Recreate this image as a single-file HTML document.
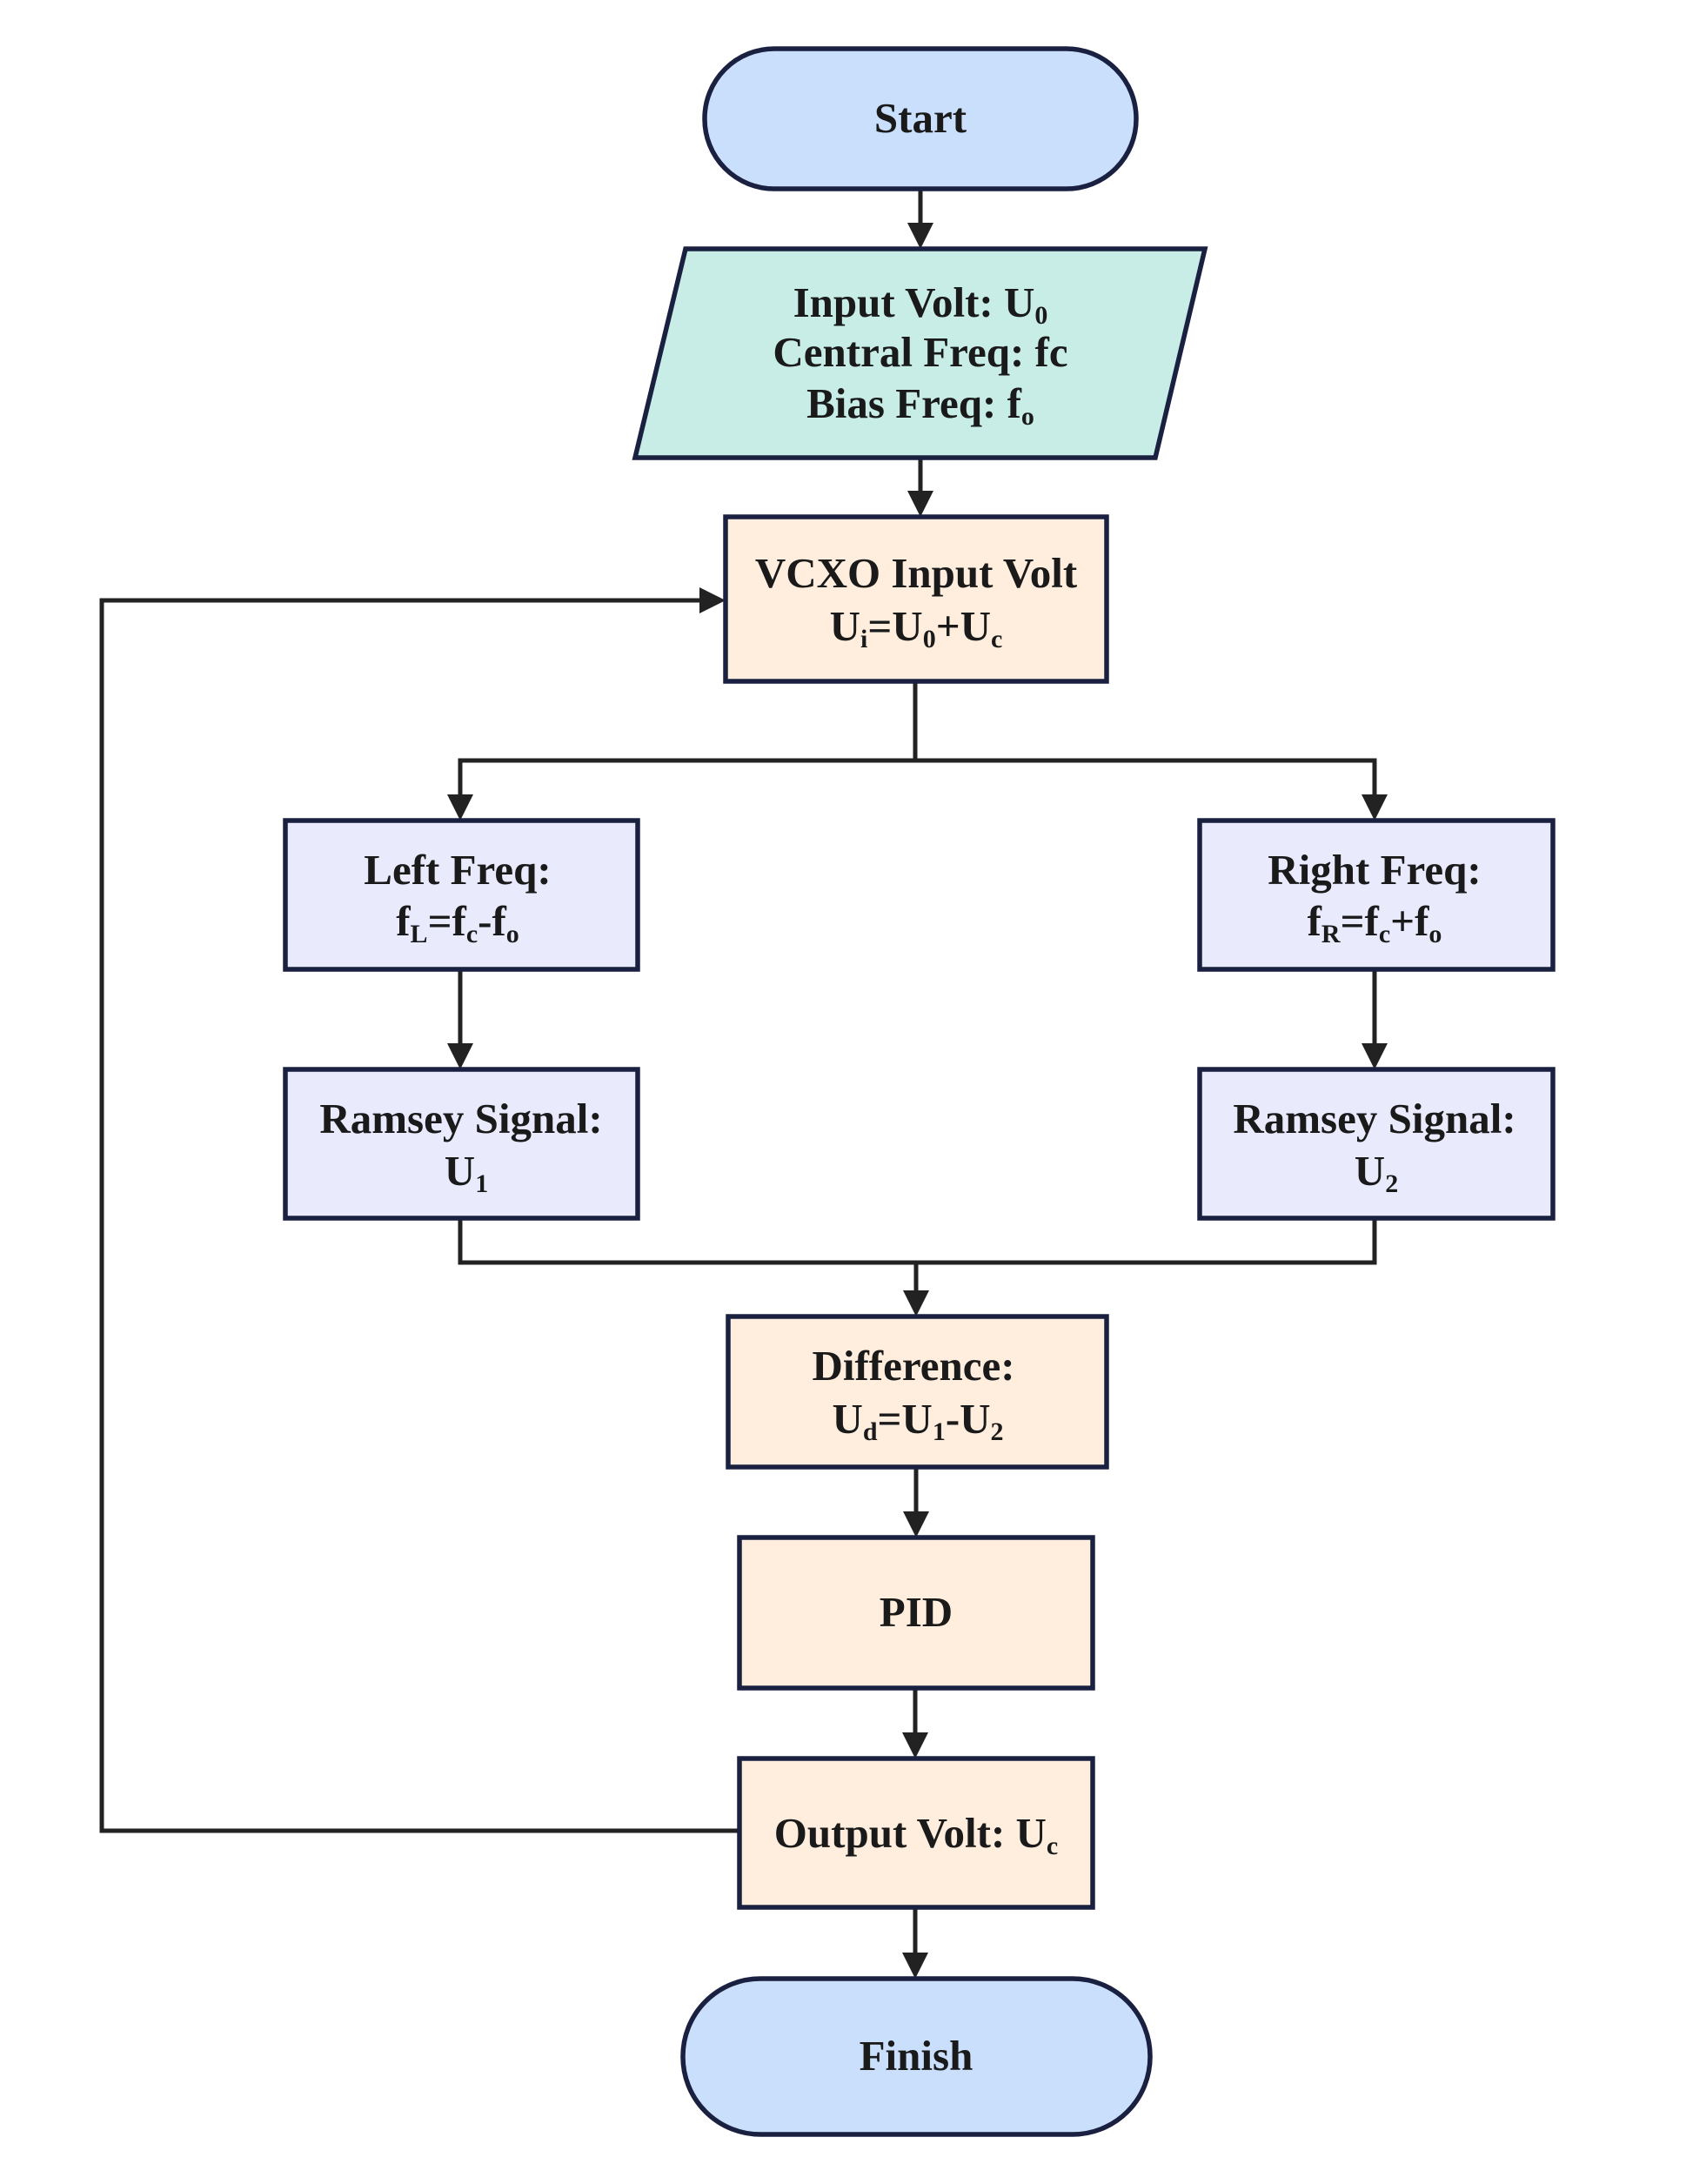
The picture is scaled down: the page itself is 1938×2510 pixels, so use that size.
<!DOCTYPE html>
<html><head><meta charset="utf-8"><style>
html,body{margin:0;padding:0;background:#fff;}
svg{display:block;}
text{font-family:"Liberation Serif",serif;font-weight:bold;font-size:49px;fill:#1a1a1a;}
.s{font-size:30px;}
</style></head><body>
<svg width="1938" height="2510" viewBox="0 0 1938 2510" xmlns="http://www.w3.org/2000/svg">
<g stroke="#222" stroke-width="5" fill="none">
<line x1="1058" y1="217" x2="1058" y2="258"/>
<line x1="1058" y1="526" x2="1058" y2="566"/>
<polyline points="1052,783 1052,874 529,874 529,915"/>
<polyline points="1052,874 1580,874 1580,915"/>
<line x1="529" y1="1114" x2="529" y2="1201"/>
<line x1="1580" y1="1114" x2="1580" y2="1201"/>
<polyline points="529,1400 529,1451 1580,1451 1580,1400"/>
<line x1="1053" y1="1451" x2="1053" y2="1485"/>
<line x1="1053" y1="1686" x2="1053" y2="1739"/>
<line x1="1052" y1="1940" x2="1052" y2="1993"/>
<line x1="1052" y1="2192" x2="1052" y2="2246"/>
<polyline points="850,2104 117,2104 117,690 806,690"/>
</g>
<g fill="#222">
<polygon points="1043,256 1073,256 1058,286"/>
<polygon points="1043,564 1073,564 1058,594"/>
<polygon points="514,913 544,913 529,943"/>
<polygon points="1565,913 1595,913 1580,943"/>
<polygon points="514,1199 544,1199 529,1229"/>
<polygon points="1565,1199 1595,1199 1580,1229"/>
<polygon points="1038,1483 1068,1483 1053,1513"/>
<polygon points="1038,1737 1068,1737 1053,1767"/>
<polygon points="1037,1991 1067,1991 1052,2021"/>
<polygon points="1037,2244 1067,2244 1052,2274"/>
<polygon points="804,675 804,705 834,690"/>
</g>
<g stroke="#1a2040" stroke-width="5.5">
<rect x="810" y="56" width="496" height="161" rx="80" fill="#c9dffb"/>
<polygon points="788,286 1385,286 1328,526 730,526" fill="#c7ede6"/>
<rect x="834" y="594" width="438" height="189" fill="#ffeedd"/>
<rect x="328" y="943" width="405" height="171" fill="#e9ebfd"/>
<rect x="1379" y="943" width="406" height="171" fill="#e9ebfd"/>
<rect x="328" y="1229" width="405" height="171" fill="#e9ebfd"/>
<rect x="1379" y="1229" width="406" height="171" fill="#e9ebfd"/>
<rect x="837" y="1513" width="435" height="173" fill="#ffeedd"/>
<rect x="850" y="1767" width="406" height="173" fill="#ffeedd"/>
<rect x="850" y="2021" width="406" height="171" fill="#ffeedd"/>
<rect x="785" y="2274" width="537" height="179" rx="89" fill="#c9dffb"/>
</g>
<g text-anchor="middle">
<text x="1058" y="152">Start</text>
<text x="1058" y="364">Input Volt: U<tspan class="s" dy="8">0</tspan></text>
<text x="1058" y="421">Central Freq: fc</text>
<text x="1058" y="480">Bias Freq: f<tspan class="s" dy="8">o</tspan></text>
<text x="1053" y="675">VCXO Input Volt</text>
<text x="1053" y="736">U<tspan class="s" dy="8">i</tspan><tspan dy="-8">=U</tspan><tspan class="s" dy="8">0</tspan><tspan dy="-8">+U</tspan><tspan class="s" dy="8">c</tspan></text>
<text x="526" y="1016">Left Freq:</text>
<text x="526" y="1075">f<tspan class="s" dy="8">L</tspan><tspan dy="-8">=f</tspan><tspan class="s" dy="8">c</tspan><tspan dy="-8">-f</tspan><tspan class="s" dy="8">o</tspan></text>
<text x="1580" y="1016">Right Freq:</text>
<text x="1580" y="1075">f<tspan class="s" dy="8">R</tspan><tspan dy="-8">=f</tspan><tspan class="s" dy="8">c</tspan><tspan dy="-8">+f</tspan><tspan class="s" dy="8">o</tspan></text>
<text x="530" y="1302">Ramsey Signal:</text>
<text x="536" y="1362">U<tspan class="s" dy="8">1</tspan></text>
<text x="1580" y="1302">Ramsey Signal:</text>
<text x="1582" y="1362">U<tspan class="s" dy="8">2</tspan></text>
<text x="1050" y="1586">Difference:</text>
<text x="1055" y="1647">U<tspan class="s" dy="8">d</tspan><tspan dy="-8">=U</tspan><tspan class="s" dy="8">1</tspan><tspan dy="-8">-U</tspan><tspan class="s" dy="8">2</tspan></text>
<text x="1053" y="1869">PID</text>
<text x="1053" y="2123">Output Volt: U<tspan class="s" dy="8">c</tspan></text>
<text x="1053" y="2379">Finish</text>
</g>
</svg>
</body></html>
